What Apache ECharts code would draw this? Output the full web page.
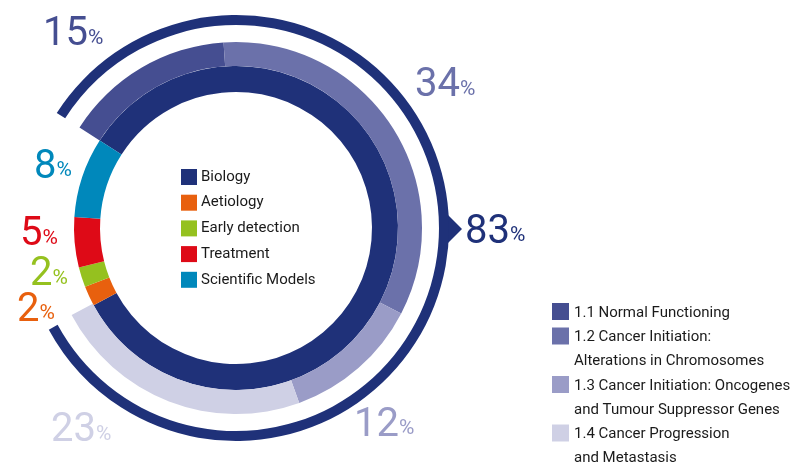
<!DOCTYPE html>
<html><head><meta charset="utf-8">
<script src="https://cdn.jsdelivr.net/npm/echarts@6/dist/echarts.min.js"></script>
<style>html,body{margin:0;padding:0;background:#fff}#c{width:803px;height:463px}</style>
</head><body><div id="c"></div>
<script>
// ---- data ----
const categories = ['Biology', 'Aetiology', 'Early detection', 'Treatment', 'Scientific Models'];
const categoryValues = [83, 2, 2, 5, 8];
const categoryColors = ['#1f3179', '#e8600e', '#95c11f', '#de0a17', '#0088bb'];

const subCategories = [
  '1.1 Normal Functioning',
  '1.2 Cancer Initiation:\nAlterations in Chromosomes',
  '1.3 Cancer Initiation: Oncogenes\nand Tumour Suppressor Genes',
  '1.4 Cancer Progression\nand Metastasis'
];
const subValues = [15, 34, 12, 23];
const subColors = ['#454e91', '#6b71aa', '#9a9cc7', '#cfd0e5'];

// ---- layout (positions only) ----
const CX = 236, CY = 228;
const START = 147.3;
const catLabelPos = [[465, 230.5], [17, 308.5], [30, 273], [20, 233], [34, 165.5]];
const subLabelPos = [[43, 33], [415, 84], [354, 423.5], [51, 429]];
const FONT = 'Roboto, "Noto Sans", sans-serif';

const richStyle = {
  n: { fontSize: 40, fontFamily: FONT, lineHeight: 44, verticalAlign: 'bottom' },
  p: { fontSize: 21, fontFamily: FONT, lineHeight: 21, verticalAlign: 'bottom', padding: [0, 0, 6, 0] }
};
const pctFormatter = p => '{n|' + p.value + '}{p|%}';

const chart = echarts.init(document.getElementById('c'), null, { renderer: 'canvas' });

// inner ring
const innerData = categories.map((name, i) => ({
  name, value: categoryValues[i],
  itemStyle: { color: categoryColors[i] },
  label: { color: categoryColors[i] }
}));

// sub ring (Biology breakdown); remaining share left empty
const otherTotal = categoryValues.slice(1).reduce((a, b) => a + b, 0);
const subData = subCategories.map((name, i) => ({
  name, value: subValues[i],
  itemStyle: { color: subColors[i] },
  label: { color: subColors[i] }
})).concat([{ name: '', value: otherTotal, itemStyle: { color: 'rgba(0,0,0,0)' }, label: { show: false } }]);

// thin outer arc for Biology
const arcData = categories.map((name, i) => ({
  name, value: categoryValues[i],
  itemStyle: { color: i === 0 ? categoryColors[0] : 'rgba(0,0,0,0)' }
}));

function layoutFrom(pos) {
  return function (params) {
    const p = pos[params.dataIndex];
    if (!p) return {};
    return { x: p[0], y: p[1], align: 'left', verticalAlign: 'middle', hideOverlap: false };
  };
}

// second legend built with graphic elements
const legend2 = [];
let ly = 312;
subCategories.forEach((name, i) => {
  const lines = name.split('\n').length;
  legend2.push({
    type: 'rect', shape: { x: 552, y: ly - 9, width: 17, height: 17 },
    style: { fill: subColors[i] }, silent: true
  });
  legend2.push({
    type: 'text', x: 574, y: ly - 11,
    style: { text: name, fill: '#1a1a1a', font: '15px ' + FONT, lineHeight: 24, verticalAlign: 'top' },
    silent: true
  });
  ly += lines * 24 + 0.5;
});

const option = {
  animation: false,
  backgroundColor: '#ffffff',
  legend: {
    data: categories,
    orient: 'vertical',
    left: 181, top: 169,
    padding: 0,
    itemWidth: 16, itemHeight: 16, itemGap: 9.7,
    icon: 'rect',
    selectedMode: false,
    textStyle: { fontSize: 15, fontFamily: FONT, color: '#1a1a1a', padding: [0, 0, 0, -1] }
  },
  graphic: legend2.concat([{
    type: 'polygon',
    shape: { points: [[CX + 210, CY - 15], [CX + 226, CY + 1], [CX + 210, CY + 17]] },
    style: { fill: categoryColors[0] }, silent: true
  }]),
  series: [
    {
      type: 'pie', name: 'categories',
      center: [CX, CY], radius: [136, 162],
      startAngle: START, clockwise: true,
      avoidLabelOverlap: false,
      emphasis: { disabled: true },
      label: { show: true, position: 'outside', formatter: pctFormatter, rich: richStyle },
      labelLine: { show: false },
      labelLayout: layoutFrom(catLabelPos),
      data: innerData
    },
    {
      type: 'pie', name: 'biology',
      center: [CX, CY], radius: [162, 186],
      startAngle: START, clockwise: true,
      avoidLabelOverlap: false,
      emphasis: { disabled: true },
      label: { show: true, position: 'outside', formatter: pctFormatter, rich: richStyle },
      labelLine: { show: false },
      labelLayout: layoutFrom(subLabelPos),
      data: subData
    },
    {
      type: 'pie', name: 'arc',
      center: [CX, CY], radius: [203, 213],
      startAngle: START, clockwise: true,
      silent: true,
      emphasis: { disabled: true },
      label: { show: false }, labelLine: { show: false },
      data: arcData
    }
  ]
};
chart.setOption(option);
</script>
</body></html>
